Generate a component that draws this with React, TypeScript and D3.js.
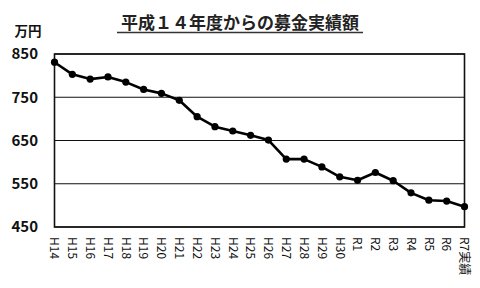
import React from "react";
import * as d3 from "d3";

const categories = ["H14","H15","H16","H17","H18","H19","H20","H21","H22","H23","H24","H25","H26","H27","H28","H29","H30","R1","R2","R3","R4","R5","R6","R7実績"];
const values = [831,803,792,797,785,768,759,743,705,682,672,662,651,607,607,589,566,558,576,557,529,512,510,497];
const yTicks = [450,550,650,750,850];
const title = "平成１４年度からの募金実績額";
const unit = "万円";

export default function App() {
  const W = 480, H = 288;
  const left = 54.5, right = 464.5, top = 54, bottom = 227;
  const x = d3.scalePoint<string>().domain(categories).range([left, right]);
  const y = d3.scaleLinear().domain([450, 850]).range([bottom, top]);
  const line = d3.line<number>().x((_, i) => x(categories[i])!).y(d => y(d));
  const font = "'Noto Sans CJK JP', 'Noto Sans', sans-serif";
  return (
    <svg width={W} height={H} style={{ position: "absolute", left: 0, top: 0, background: "#fff" }} fontFamily={font}>
      <text x={240} y={29} textAnchor="middle" fontSize={17} fontWeight="bold" fill="#222">{title}</text>
      <line x1={117} x2={363} y1={32.5} y2={32.5} stroke="#333" strokeWidth={1.5} />
      <text x={28} y={36} textAnchor="middle" fontSize={13.5} fontWeight="bold" fill="#111">{unit}</text>
      {yTicks.map(t => (
        <g key={t}>
          <line x1={left} x2={right} y1={y(t)} y2={y(t)} stroke="#111" strokeWidth={1.2} />
          <text x={38} y={y(t)} dy="0.35em" textAnchor="end" fontSize={15} fontWeight="bold" fill="#111">{t}</text>
        </g>
      ))}
      <rect x={left} y={top} width={right - left} height={bottom - top} fill="none" stroke="#111" strokeWidth={1.6} />
      <path d={line(values)!} fill="none" stroke="#000" strokeWidth={2.6} strokeLinejoin="round" />
      {values.map((v, i) => (
        <circle key={i} cx={x(categories[i])} cy={y(v)} r={3.6} fill="#000" />
      ))}
      {categories.map(c => (
        <text key={c} transform={`translate(${x(c)! },237) rotate(90)`} dy="0.35em" fontSize={12} fill="#111">{c}</text>
      ))}
    </svg>
  );
}
